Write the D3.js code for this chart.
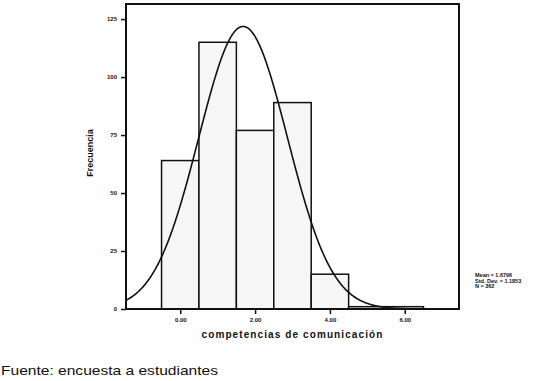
<!DOCTYPE html>
<html><head><meta charset="utf-8">
<script src="https://cdn.jsdelivr.net/npm/d3@7"></script>
<style>body{margin:0;background:#fff}svg{display:block}text{font-family:"Liberation Sans",Arial,sans-serif}</style>
</head><body>
<script>
const binCenters = [0, 1, 2, 3, 4, 5, 6];
const frequencies = [64, 115, 77, 89, 15, 1, 1];
const xTicks = [0, 2, 4, 6];
const yTicks = [0, 25, 50, 75, 100, 125];
const statsLabels = ["Mean = 1.6796", "Std. Dev. = 1.1853", "N = 362"];
const mean = 1.6796, sd = 1.1853, n = 362;

const W = 557, H = 381;
const svg = d3.select("body").append("svg").attr("width", W).attr("height", H);
const L = 126, R = 459, T = 4, B = 309;
const x = d3.scaleLinear().domain([-1.45, 7.45]).range([L, R]);
const y = d3.scaleLinear().domain([0, 131.5]).range([B, T]);

// bars
svg.append("g").selectAll("rect").data(binCenters).join("rect")
  .attr("x", d => x(d - 0.5)).attr("width", d => x(d + 0.5) - x(d - 0.5))
  .attr("y", (d, i) => y(frequencies[i])).attr("height", (d, i) => y(0) - y(frequencies[i]))
  .attr("fill", "#f6f6f6").attr("stroke", "#111").attr("stroke-width", 1.5);

// normal curve
const pts = d3.range(-1.45, 7.451, 0.02).map(v => [v, n * Math.exp(-0.5 * ((v - mean) / sd) ** 2) / (sd * Math.sqrt(2 * Math.PI))]);
svg.append("path").datum(pts)
  .attr("d", d3.line().x(d => x(d[0])).y(d => y(d[1])).curve(d3.curveBasis))
  .attr("fill", "none").attr("stroke", "#111").attr("stroke-width", 1.6);

// frame
svg.append("rect").attr("x", L).attr("y", T).attr("width", R - L).attr("height", B - T)
  .attr("fill", "none").attr("stroke", "#111").attr("stroke-width", 2);

// axes
const yAxis = svg.append("g").attr("transform", `translate(${L},0)`)
  .call(d3.axisLeft(y).tickValues(yTicks).tickSize(5).tickFormat(d3.format("d")));
const xAxis = svg.append("g").attr("transform", `translate(0,${B})`)
  .call(d3.axisBottom(x).tickValues(xTicks).tickSize(5).tickFormat(d3.format(".2f")));
[yAxis, xAxis].forEach(g => {
  g.select(".domain").remove();
  g.selectAll(".tick line").attr("stroke", "#111").attr("stroke-width", 1.5);
  g.selectAll(".tick text").attr("font-size", 6).attr("font-weight", "bold").attr("fill", "#111")
    .attr("font-family", "'Liberation Sans',Arial,sans-serif");
});
xAxis.selectAll(".tick text").attr("dy", "0.9em");
yAxis.selectAll(".tick text").attr("dx", "-1");

// axis titles
svg.append("text").attr("x", (L + R) / 2).attr("y", 338).attr("text-anchor", "middle")
  .attr("font-size", 10).attr("font-weight", "bold").attr("letter-spacing", 1.1).attr("fill", "#111")
  .text("competencias de comunicación");
svg.append("text").attr("transform", "translate(93,153) rotate(-90)").attr("text-anchor", "middle")
  .attr("font-size", 9).attr("font-weight", "bold").attr("fill", "#111").text("Frecuencia");

// stats
svg.append("g").selectAll("text").data(statsLabels).join("text")
  .attr("x", 475).attr("y", (d, i) => 277 + i * 5.5)
  .attr("font-size", 5.5).attr("font-weight", "bold").attr("fill", "#111").text(d => d);

// source
svg.append("text").attr("x", 1).attr("y", 375).attr("font-size", 13).attr("fill", "#111")
  .attr("textLength", 217).attr("lengthAdjust", "spacingAndGlyphs")
  .text("Fuente: encuesta a estudiantes");
</script>
</body></html>
